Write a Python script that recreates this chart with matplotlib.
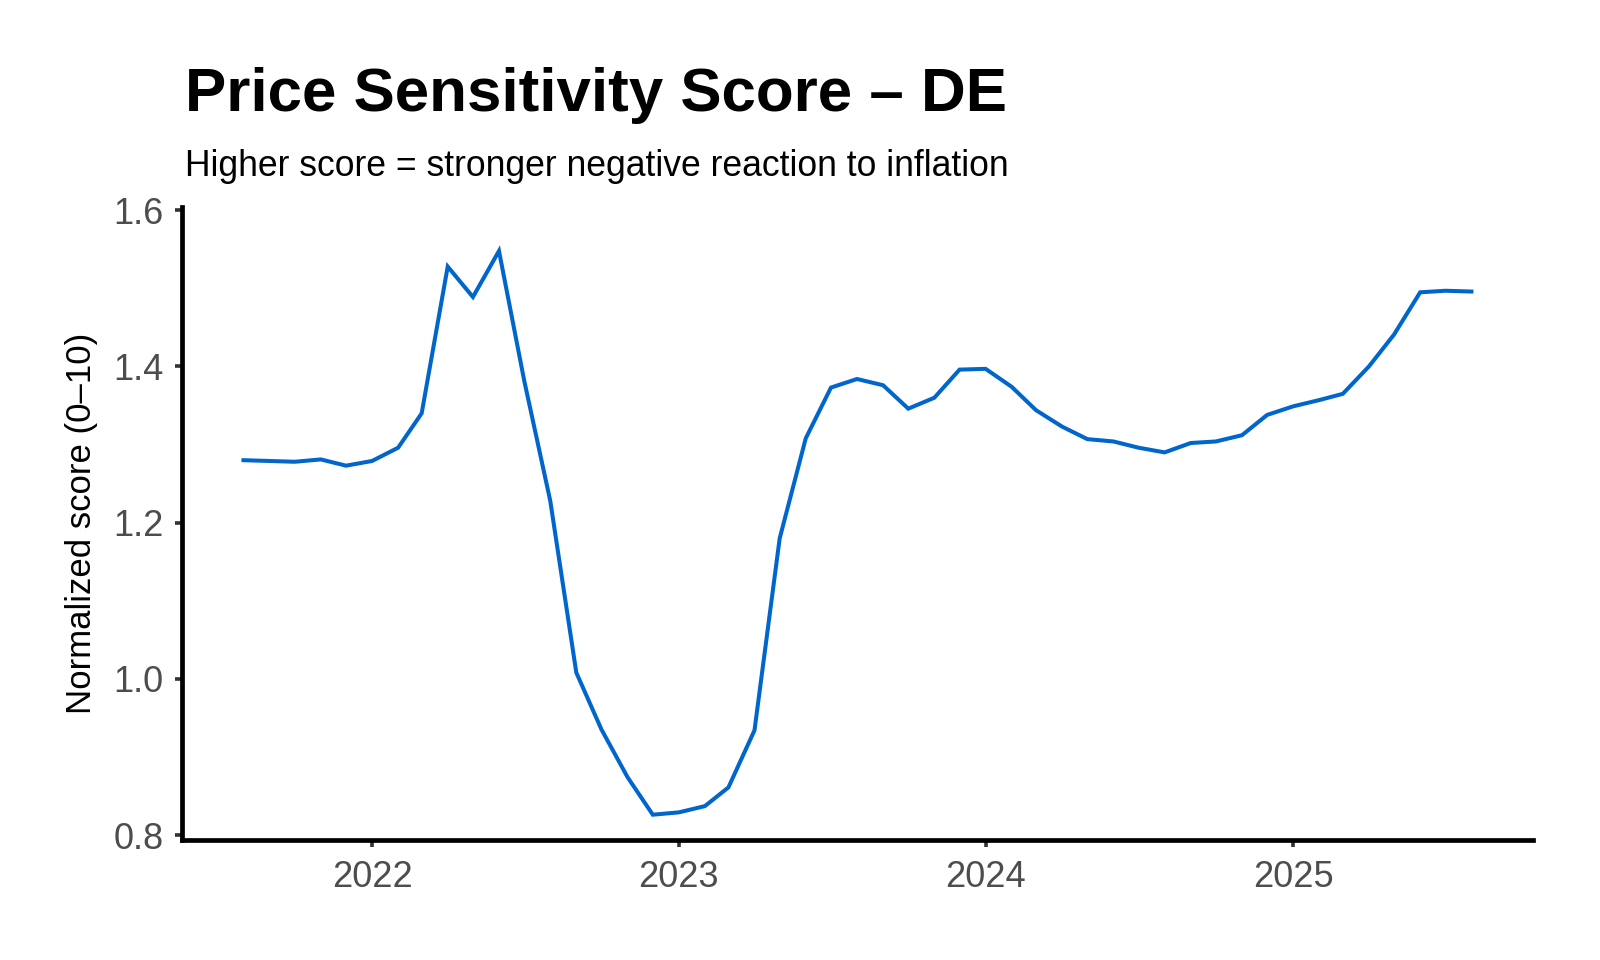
import matplotlib
matplotlib.use("Agg")
import matplotlib.pyplot as plt
import matplotlib.dates as mdates
from matplotlib.ticker import FixedLocator, FormatStrFormatter
import pandas as pd

plt.rcParams['font.family'] = ['Liberation Sans', 'DejaVu Sans']

# monthly price sensitivity score, Aug 2021 - Aug 2025
score = [1.280, 1.279, 1.278, 1.281, 1.273, 1.279, 1.296, 1.340, 1.528, 1.489,
         1.548, 1.382, 1.228, 1.008, 0.935, 0.874, 0.826, 0.829, 0.837, 0.861,
         0.934, 1.180, 1.308, 1.373, 1.384, 1.376, 1.346, 1.360, 1.396, 1.397,
         1.374, 1.344, 1.323, 1.307, 1.304, 1.296, 1.290, 1.302, 1.304, 1.312,
         1.338, 1.349, 1.357, 1.365, 1.400, 1.441, 1.495, 1.497, 1.496]
months = pd.date_range(start='2021-08-01', periods=len(score), freq='MS')
y_ticks = [0.8, 1.0, 1.2, 1.4, 1.6]

title = "Price Sensitivity Score \u2013 DE"
subtitle = "Higher score = stronger negative reaction to inflation"
ylabel = "Normalized score (0\u201310)"

fig = plt.figure(figsize=(8, 4.8), dpi=200)
ax_left, ax_bottom, ax_right, ax_top = 0.1138, 0.125, 0.958, 0.784
ax = fig.add_axes([ax_left, ax_bottom, ax_right - ax_left, ax_top - ax_bottom])

ax.plot(months, score, color='#0066CC', linewidth=1.45, solid_joinstyle='miter')

ax.set_ylim(0.7936, 1.6038)
ax.margins(x=0.05)
ax.yaxis.set_major_locator(FixedLocator(y_ticks))
ax.yaxis.set_major_formatter(FormatStrFormatter('%.1f'))
ax.xaxis.set_major_locator(mdates.YearLocator())
ax.xaxis.set_major_formatter(mdates.DateFormatter('%Y'))

for side in ['top', 'right']:
    ax.spines[side].set_visible(False)
for side in ['left', 'bottom']:
    ax.spines[side].set_linewidth(1.7)
    ax.spines[side].set_color('black')
    ax.spines[side].set_capstyle('projecting')

ax.tick_params(axis='both', length=2.6, width=1.3, color='#333333',
               labelcolor='#4D4D4D', labelsize=13)
ax.tick_params(axis='x', pad=4.5)
ax.tick_params(axis='y', pad=4)

fig.text(0.1156, 0.884, title, fontsize=22.3, fontweight='bold',
         ha='left', va='baseline', color='black')
fig.text(0.1154, 0.8163, subtitle, fontsize=12.8,
         ha='left', va='baseline', color='black')
fig.text(82 / 1600, (ax_top + ax_bottom) / 2, ylabel, fontsize=12.5,
         rotation=90, ha='center', va='center', color='black')

fig.savefig("out.png", dpi=200, facecolor='white')
plt.close(fig)
